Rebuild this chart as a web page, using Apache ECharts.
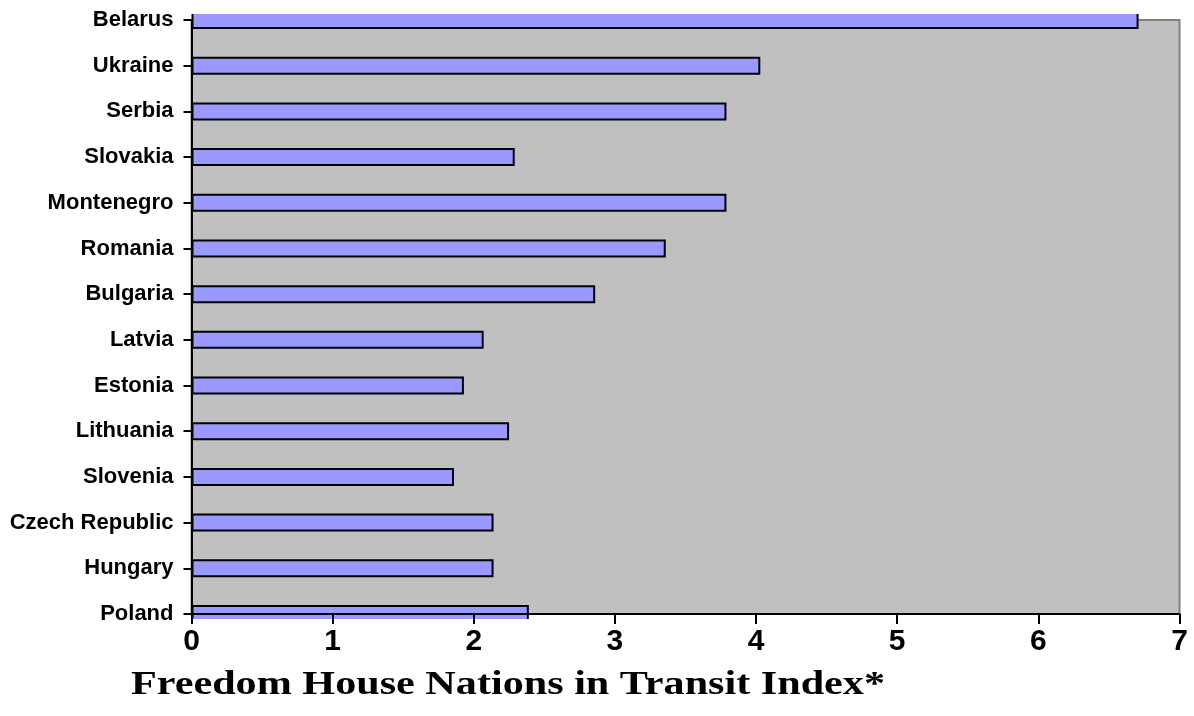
<!DOCTYPE html>
<html>
<head>
<meta charset="utf-8">
<style>
  html, body { margin: 0; padding: 0; background: #ffffff; }
  #chart { width: 1194px; height: 716px; }
</style>
<script src="https://cdn.jsdelivr.net/npm/echarts@6/dist/echarts.min.js"></script>
</head>
<body>
<div id="chart"></div>
<script>
// Freedom House Nations in Transit scores, listed top to bottom
const countries = [
  'Belarus', 'Ukraine', 'Serbia', 'Slovakia', 'Montenegro', 'Romania', 'Bulgaria',
  'Latvia', 'Estonia', 'Lithuania', 'Slovenia', 'Czech Republic', 'Hungary', 'Poland'
];
const scores = [6.71, 4.03, 3.79, 2.29, 3.79, 3.36, 2.86, 2.07, 1.93, 2.25, 1.86, 2.14, 2.14, 2.39];
const scaleTicks = [0, 1, 2, 3, 4, 5, 6, 7];
const axisTitle = 'Freedom House Nations in Transit Index*';

const chart = echarts.init(document.getElementById('chart'), null, { renderer: 'canvas' });

const GRID = { left: 191.5, right: 14.5, top: 20, bottom: 102 };

// stretch the axis title to its printed width
function measure(text, font) {
  const c = document.createElement('canvas').getContext('2d');
  c.font = font;
  return c.measureText(text).width;
}
const titleFont = 'bold 33px "Liberation Serif", "Times New Roman", serif';
const titleScale = 754 / measure(axisTitle, titleFont);

chart.setOption({
  animation: false,
  grid: {
    left: GRID.left, right: GRID.right, top: GRID.top, bottom: GRID.bottom,
    show: true, backgroundColor: '#C0C0C0', borderColor: '#808080', borderWidth: 2
  },
  xAxis: {
    type: 'value',
    min: scaleTicks[0],
    max: scaleTicks[scaleTicks.length - 1],
    interval: 1,
    z: 200,
    axisLine: { show: true, lineStyle: { color: '#000', width: 2 } },
    axisTick: { show: true, length: 10, lineStyle: { color: '#000', width: 2 } },
    splitLine: { show: false },
    axisLabel: {
      margin: 13,
      color: '#000',
      fontFamily: '"Liberation Sans", Arial, sans-serif',
      fontWeight: 'bold',
      fontSize: 30,
      formatter: v => String(v)
    }
  },
  yAxis: {
    type: 'category',
    data: countries,
    inverse: true,
    boundaryGap: false,
    z: 200,
    axisLine: { show: true, lineStyle: { color: '#000', width: 2 } },
    axisTick: { show: true, length: 8, lineStyle: { color: '#000', width: 2 } },
    splitLine: { show: false },
    axisLabel: {
      margin: 18,
      color: '#000',
      fontFamily: '"Liberation Sans", Arial, sans-serif',
      fontWeight: 'bold',
      fontSize: 22,
      interval: 0
    }
  },
  series: [{
    type: 'bar',
    data: scores,
    barWidth: 18,
    clip: false,
    itemStyle: { color: '#9999FF', borderColor: '#000', borderWidth: 2 }
  }],
  graphic: [
    // title band above the plot
    { type: 'rect', z: 100, shape: { x: 0, y: 0, width: 1194, height: 14 }, style: { fill: '#fff' } },
    // strip below the category axis
    { type: 'rect', z: 100, shape: { x: 193, y: 619, width: 1000, height: 20 }, style: { fill: '#fff' } },
    {
      type: 'text', z: 100, x: 508, y: 685, scaleX: titleScale,
      style: {
        text: axisTitle, font: titleFont, fill: '#000',
        textAlign: 'center', textVerticalAlign: 'middle'
      }
    }
  ]
});
</script>
</body>
</html>
